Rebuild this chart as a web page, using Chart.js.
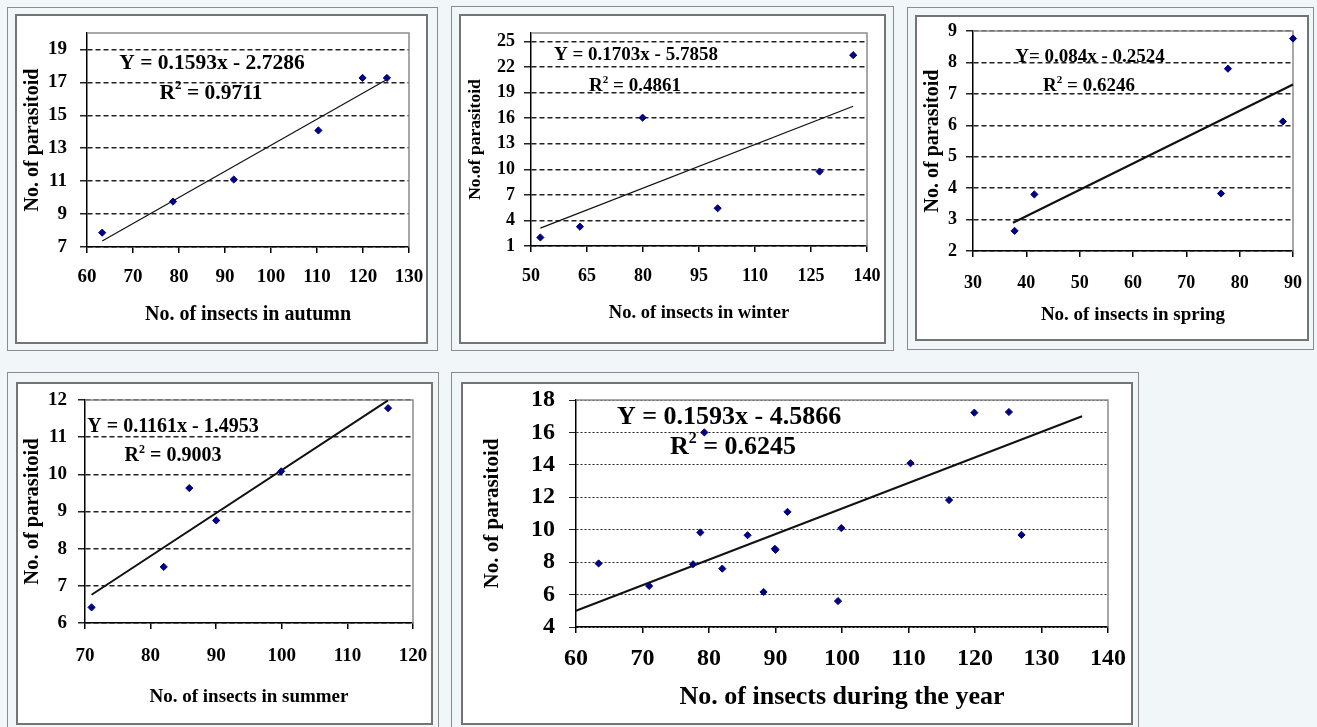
<!DOCTYPE html>
<html>
<head>
<meta charset="utf-8">
<script src="https://cdn.jsdelivr.net/npm/chart.js@4.4.1/dist/chart.umd.min.js"></script>
<style>
  html, body { margin: 0; padding: 0; background: #f1f6f9; }
  body { width: 1317px; height: 727px; position: relative; overflow: hidden; }
  .outer { position: absolute; border: 1px solid #8c8c8c; box-sizing: border-box; }
  .inner { position: absolute; border: 2px solid #747474; background: #fff; box-sizing: border-box; }
  canvas { position: absolute; left: 0; top: 0; }
</style>
</head>
<body>
<script>
// ---- data ----
const autumnX = [63.3, 78.7, 91.9, 110.3, 119.9, 125.2];
const autumnY = [7.87, 9.76, 11.1, 14.08, 17.27, 17.27];
const autumnTrendX = [63.3, 125.2];
const autumnTrendY = [7.37, 17.18];
const autumnXTicks = [60, 70, 80, 90, 100, 110, 120, 130];
const autumnYTicks = [7, 9, 11, 13, 15, 17, 19];

const winterX = [52.5, 63.1, 79.9, 100, 127.3, 136.3];
const winterY = [2.0, 3.27, 16.06, 5.43, 9.74, 23.4];
const winterTrendX = [52.5, 136.3];
const winterTrendY = [3.1, 17.4];
const winterXTicks = [50, 65, 80, 95, 110, 125, 140];
const winterYTicks = [1, 4, 7, 10, 13, 16, 19, 22, 25];

const springX = [37.8, 41.5, 76.5, 77.8, 88.1, 90];
const springY = [2.64, 3.8, 3.83, 7.8, 6.12, 8.76];
const springTrendX = [37.5, 90];
const springTrendY = [2.9, 7.3];
const springXTicks = [30, 40, 50, 60, 70, 80, 90];
const springYTicks = [2, 3, 4, 5, 6, 7, 8, 9];

const summerX = [71.0, 82.0, 85.9, 90.0, 99.9, 116.2];
const summerY = [6.42, 7.51, 9.63, 8.76, 10.08, 11.78];
const summerTrendX = [71, 116.2];
const summerTrendY = [6.76, 11.99];
const summerXTicks = [70, 80, 90, 100, 110, 120];
const summerYTicks = [6, 7, 8, 9, 10, 11, 12];

const yearX = [63.4, 71.0, 77.6, 78.7, 79.3, 82.0, 85.8, 88.2, 89.9, 90.0, 91.8, 99.4, 99.9, 110.3, 116.1, 119.9, 125.1, 127.0];
const yearY = [7.92, 6.53, 7.87, 9.83, 16.0, 7.6, 9.66, 6.16, 8.82, 8.76, 11.1, 5.6, 10.1, 14.1, 11.83, 17.22, 17.26, 9.68];
const yearTrendX = [60, 136.1];
const yearTrendY = [5.0, 17.0];
const yearXTicks = [60, 70, 80, 90, 100, 110, 120, 130, 140];
const yearYTicks = [4, 6, 8, 10, 12, 14, 16, 18];

const xTitles = ['No. of insects in autumn', 'No. of insects in winter', 'No. of insects in spring',
                 'No. of insects in summer', 'No. of insects during the year'];
const yTitles = ['No. of parasitoid', 'No.of parasitoid', 'No. of parasitoid', 'No. of parasitoid', 'No. of parasitoid'];
const equations = ['Y = 0.1593x - 2.7286', 'Y = 0.1703x - 5.7858', 'Y= 0.084x - 0.2524',
                   'Y = 0.1161x - 1.4953', 'Y = 0.1593x - 4.5866'];
const rSquared = ['R² = 0.9711', 'R² = 0.4861', 'R² = 0.6246', 'R² = 0.9003', 'R² = 0.6245'];

const FONT = '"Liberation Serif", "Times New Roman", serif';

// ---- layout (page pixels) ----
const panels = [
  { x: autumnX, y: autumnY, tx: autumnTrendX, ty: autumnTrendY, xt: autumnXTicks, yt: autumnYTicks,
    xMin: 60, xMax: 130, yMin: 7, yMax: 20,
    outer: [7, 7, 431, 344], inner: [15, 14, 413, 330], plot: [87, 33, 409, 247],
    tickSize: 19, xTitleSize: 20, yTitleSize: 20, eqSize: 21.5,
    xTitleCY: 315, yTitleCX: 33, xTickPad: 13, yTickPad: 13,
    eqPos: [212, 63], r2Pos: [211, 93], trendWidth: 1.2, dash: [5, 3], gridWidth: 1.5 },
  { x: winterX, y: winterY, tx: winterTrendX, ty: winterTrendY, xt: winterXTicks, yt: winterYTicks,
    xMin: 50, xMax: 140, yMin: 1, yMax: 26,
    outer: [451, 6, 443, 345], inner: [459, 14, 427, 330], plot: [531, 33, 867, 246],
    tickSize: 18, xTitleSize: 18.5, yTitleSize: 17.5, eqSize: 19,
    xTitleCY: 313, yTitleCX: 475, xTickPad: 14, yTickPad: 9,
    eqPos: [636, 55], r2Pos: [635, 86], trendWidth: 1.2, dash: [5, 3], gridWidth: 1.5 },
  { x: springX, y: springY, tx: springTrendX, ty: springTrendY, xt: springXTicks, yt: springYTicks,
    xMin: 30, xMax: 90, yMin: 2, yMax: 9,
    outer: [907, 7, 407, 343], inner: [915, 15, 394, 326], plot: [973, 31, 1293, 251],
    tickSize: 18, xTitleSize: 19, yTitleSize: 20, eqSize: 19,
    xTitleCY: 315, yTitleCX: 933, xTickPad: 16, yTickPad: 9,
    eqPos: [1090, 57], r2Pos: [1089, 86], trendWidth: 2.2, dash: [5, 3], gridWidth: 1.5 },
  { x: summerX, y: summerY, tx: summerTrendX, ty: summerTrendY, xt: summerXTicks, yt: summerYTicks,
    xMin: 70, xMax: 120, yMin: 6, yMax: 12,
    outer: [7, 372, 432, 365], inner: [16, 382, 417, 343], plot: [85, 400, 413, 623],
    tickSize: 19, xTitleSize: 19, yTitleSize: 20.5, eqSize: 20,
    xTitleCY: 697, yTitleCX: 33, xTickPad: 16, yTickPad: 11,
    eqPos: [173, 427], r2Pos: [173, 456], trendWidth: 2, dash: [5, 3], gridWidth: 1.5 },
  { x: yearX, y: yearY, tx: yearTrendX, ty: yearTrendY, xt: yearXTicks, yt: yearYTicks,
    xMin: 60, xMax: 140, yMin: 4, yMax: 18,
    outer: [451, 372, 688, 365], inner: [461, 382, 672, 343], plot: [576, 400, 1108, 627],
    tickSize: 24, xTitleSize: 26, yTitleSize: 21, eqSize: 26,
    xTitleCY: 697, yTitleCX: 493, xTickPad: 11, yTickPad: 14,
    eqPos: [729, 417], r2Pos: [733, 447], trendWidth: 2, dash: [2, 2], gridWidth: 1 }
];

// grey frame on top/right of plot area, then the regression text
const framePlugin = {
  id: 'frame',
  beforeDatasetsDraw(chart) {
    const { ctx, chartArea: a } = chart;
    ctx.save();
    ctx.strokeStyle = '#8c8c8c';
    ctx.lineWidth = 1.5;
    ctx.beginPath();
    ctx.moveTo(a.left, a.top);
    ctx.lineTo(a.right, a.top);
    ctx.lineTo(a.right, a.bottom);
    ctx.stroke();
    ctx.restore();
  },
  afterDatasetsDraw(chart, args, opts) {
    const ctx = chart.ctx;
    const fs = opts.size;
    const main = `bold ${fs}px ${FONT}`;
    const sup = `bold ${Math.round(fs * 0.6)}px ${FONT}`;
    ctx.save();
    ctx.fillStyle = '#000';
    ctx.textBaseline = 'middle';
    ctx.textAlign = 'center';
    ctx.font = main;
    ctx.fillText(opts.eq, opts.eqX, opts.eqY);

    // "R² = ..." with a raised 2
    const parts = opts.r2.split('²');
    ctx.textAlign = 'left';
    const wR = ctx.measureText(parts[0]).width;
    const wRest = ctx.measureText(parts[1]).width;
    ctx.font = sup;
    const wS = ctx.measureText('2').width;
    let x0 = opts.r2X - (wR + wS + wRest) / 2;
    ctx.font = main;
    ctx.fillText(parts[0], x0, opts.r2Y);
    ctx.font = sup;
    ctx.fillText('2', x0 + wR, opts.r2Y - fs * 0.32);
    ctx.font = main;
    ctx.fillText(parts[1], x0 + wR + wS, opts.r2Y);
    ctx.restore();
  }
};

function box(cls, r) {
  const d = document.createElement('div');
  d.className = cls;
  d.style.left = r[0] + 'px';
  d.style.top = r[1] + 'px';
  d.style.width = r[2] + 'px';
  d.style.height = r[3] + 'px';
  document.body.appendChild(d);
  return d;
}

// stop the tick labels from pushing the plot area inwards
function noPad(s) {
  s.paddingLeft = 0;
  s.paddingRight = 0;
  s.paddingTop = 0;
  s.paddingBottom = 0;
}

panels.forEach((p, i) => {
  box('outer', p.outer);
  const inner = box('inner', p.inner);
  const cl = p.inner[0] + 2, ct = p.inner[1] + 2;
  const cw = p.inner[2] - 4, ch = p.inner[3] - 4;
  const canvas = document.createElement('canvas');
  canvas.width = cw;
  canvas.height = ch;
  canvas.style.width = cw + 'px';
  canvas.style.height = ch + 'px';
  inner.appendChild(canvas);

  const yWidth = p.plot[0] - cl;
  const padTop = p.plot[1] - ct;
  const padRight = cl + cw - p.plot[2];
  const xHeight = ct + ch - p.plot[3];
  const xTitlePad = ct + ch - p.xTitleCY - p.xTitleSize * 0.6;
  const yTitlePad = p.yTitleCX - cl - p.yTitleSize * 0.6;

  new Chart(canvas, {
    type: 'scatter',
    data: {
      datasets: [
        {
          data: p.x.map((v, k) => ({ x: v, y: p.y[k] })),
          pointStyle: 'rectRot',
          pointRadius: 3.6,
          pointHoverRadius: 3.6,
          pointBackgroundColor: '#000080',
          pointBorderColor: '#000080',
          pointBorderWidth: 1,
          clip: false
        },
        {
          type: 'line',
          data: p.tx.map((v, k) => ({ x: v, y: p.ty[k] })),
          borderColor: '#111',
          borderWidth: p.trendWidth,
          pointRadius: 0,
          fill: false,
          tension: 0,
          clip: false
        }
      ]
    },
    options: {
      responsive: false,
      animation: false,
      events: [],
      layout: { padding: { top: padTop, right: padRight, left: 0, bottom: 0 } },
      plugins: {
        legend: { display: false },
        tooltip: { enabled: false },
        frame: {
          size: p.eqSize, eq: equations[i], r2: rSquared[i],
          eqX: p.eqPos[0] - cl, eqY: p.eqPos[1] - ct,
          r2X: p.r2Pos[0] - cl, r2Y: p.r2Pos[1] - ct
        }
      },
      scales: {
        x: {
          type: 'linear',
          min: p.xMin,
          max: p.xMax,
          afterBuildTicks: s => { s.ticks = p.xt.map(v => ({ value: v })); },
          afterFit: s => { s.height = xHeight; noPad(s); },
          grid: { drawOnChartArea: false, drawTicks: true, tickLength: 6, color: '#000', lineWidth: 1.5 },
          border: { color: '#000', width: 1.5 },
          ticks: { color: '#000', padding: p.xTickPad, maxRotation: 0, autoSkip: false,
                   font: { family: FONT, size: p.tickSize, weight: 'bold' } },
          title: { display: true, text: xTitles[i], color: '#000',
                   font: { family: FONT, size: p.xTitleSize, weight: 'bold' },
                   padding: { top: 0, bottom: xTitlePad } }
        },
        y: {
          type: 'linear',
          min: p.yMin,
          max: p.yMax,
          afterBuildTicks: s => { s.ticks = p.yt.map(v => ({ value: v })); },
          afterFit: s => { s.width = yWidth; noPad(s); },
          grid: { color: '#222', lineWidth: p.gridWidth, tickLength: 7, drawTicks: true },
          border: { color: '#000', width: 1.5, dash: p.dash },
          ticks: { color: '#000', padding: p.yTickPad, autoSkip: false,
                   font: { family: FONT, size: p.tickSize, weight: 'bold' } },
          title: { display: true, text: yTitles[i], color: '#000',
                   font: { family: FONT, size: p.yTitleSize, weight: 'bold' },
                   padding: { top: yTitlePad, bottom: 0 } }
        }
      }
    },
    plugins: [framePlugin]
  });
});
</script>
</body>
</html>
